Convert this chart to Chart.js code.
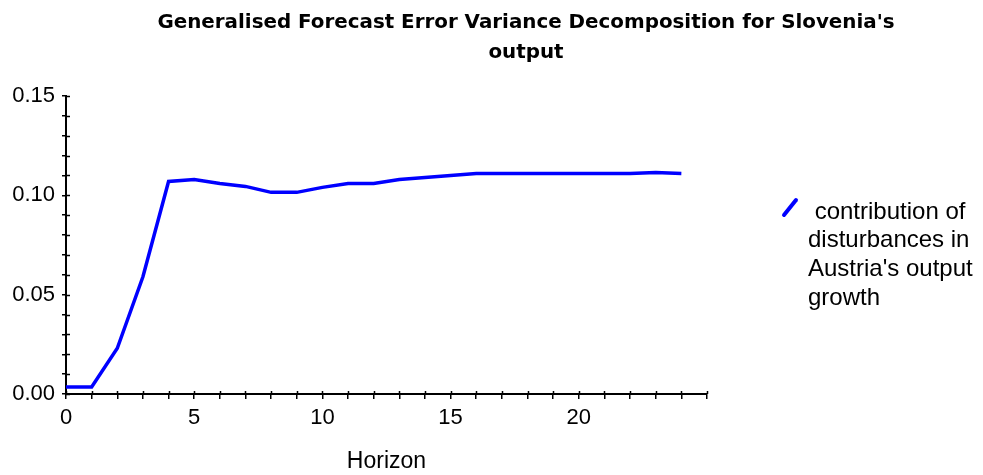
<!DOCTYPE html>
<html>
<head>
<meta charset="utf-8">
<script src="https://cdn.jsdelivr.net/npm/chart.js@4"></script>
<style>
  html, body { margin: 0; padding: 0; background: #fff; }
  #wrap { width: 983px; height: 475px; }
</style>
</head>
<body>
<div id="wrap"><canvas id="fevd" width="983" height="475"></canvas></div>
<script>
// Horizons and FEVD share
const horizons = [0, 1, 2, 3, 4, 5, 6, 7, 8, 9, 10, 11, 12, 13, 14, 15, 16, 17, 18, 19, 20, 21, 22, 23, 24];
const contribution = [0.0035, 0.0035, 0.023, 0.059, 0.107, 0.108, 0.106, 0.1045, 0.1015, 0.1015, 0.104, 0.106, 0.106,
  0.108, 0.109, 0.110, 0.111, 0.111, 0.111, 0.111, 0.111, 0.111, 0.111, 0.1115, 0.111];
const titleLines = ["Generalised Forecast Error Variance Decomposition for Slovenia's", 'output'];
const legendLines = [' contribution of', 'disturbances in', "Austria's output", 'growth'];
const xTitle = 'Horizon';

const FONT = "'Liberation Sans', Arial, sans-serif";
const TITLE_FONT = "'DejaVu Sans', sans-serif";

// Title is drawn by hand since it sits centred on the whole figure, not the plot
const titleBlock = {
  id: 'titleBlock',
  afterDraw(chart) {
    const ctx = chart.ctx;
    ctx.save();
    // fit the first line to the width it has in the original
    let size = 19;
    ctx.font = 'bold ' + size + 'px ' + TITLE_FONT;
    size = size * 737 / ctx.measureText(titleLines[0]).width;
    ctx.font = 'bold ' + size.toFixed(2) + 'px ' + TITLE_FONT;
    ctx.fillStyle = '#000';
    ctx.textAlign = 'center';
    ctx.textBaseline = 'middle';
    titleLines.forEach((t, i) => ctx.fillText(t, 526, 23 + i * 30));
    ctx.restore();
  }
};

// Small stubs so the tick marks cross the axis lines
const innerTicks = {
  id: 'innerTicks',
  afterDraw(chart) {
    const ctx = chart.ctx;
    const { x, y } = chart.scales;
    ctx.save();
    ctx.strokeStyle = '#000';
    ctx.lineWidth = 1.5;
    ctx.beginPath();
    x.ticks.forEach(t => {
      const px = Math.round(x.getPixelForValue(t.value)) + 0.5;
      ctx.moveTo(px, y.bottom);
      ctx.lineTo(px, y.bottom - 3);
    });
    y.ticks.forEach(t => {
      const py = Math.round(y.getPixelForValue(t.value)) + 0.5;
      ctx.moveTo(x.left, py);
      ctx.lineTo(x.left + 4, py);
    });
    ctx.stroke();
    ctx.restore();
  }
};

// Wrapped legend on the right
const sideLegend = {
  id: 'sideLegend',
  afterDraw(chart) {
    const ctx = chart.ctx;
    const ds = chart.data.datasets[0];
    ctx.save();
    ctx.strokeStyle = ds.borderColor;
    ctx.lineWidth = 4;
    ctx.lineCap = 'round';
    ctx.beginPath();
    ctx.moveTo(784, 215);
    ctx.lineTo(796, 200);
    ctx.stroke();
    ctx.fillStyle = '#000';
    ctx.font = '24px ' + FONT;
    ctx.textBaseline = 'middle';
    legendLines.forEach((t, i) => ctx.fillText(t, 808, 212 + i * 28.8));
    ctx.restore();
  }
};

new Chart(document.getElementById('fevd'), {
  type: 'line',
  data: {
    labels: horizons,
    datasets: [{
      label: legendLines.join(' ').trim(),
      data: horizons.map((h, i) => ({ x: h, y: contribution[i] })),
      borderColor: '#0000ff',
      borderWidth: 3.5,
      pointRadius: 0,
      tension: 0,
      fill: false
    }]
  },
  options: {
    responsive: false,
    animation: false,
    layout: { padding: { left: 0, right: 276, top: 96, bottom: 0 } },
    plugins: {
      legend: { display: false },
      tooltip: { enabled: false },
      title: { display: false }
    },
    scales: {
      x: {
        type: 'linear',
        min: 0,
        max: 25,
        border: { color: '#000', width: 2 },
        grid: { drawOnChartArea: false, color: '#000', tickLength: 5, lineWidth: 1.5 },
        ticks: {
          stepSize: 1,
          color: '#000',
          font: { family: FONT, size: 22 },
          padding: 6,
          autoSkip: false,
          maxRotation: 0,
          callback: v => (v % 5 === 0 && v < 25 ? String(v) : '')
        },
        title: {
          display: true,
          text: xTitle,
          color: '#000',
          font: { family: FONT, size: 23 },
          padding: { top: 14, bottom: 0 }
        },
        afterFit: s => { s.height = 81; }
      },
      y: {
        min: 0,
        max: 0.15,
        border: { color: '#000', width: 2 },
        grid: { drawOnChartArea: false, color: '#000', tickLength: 4, lineWidth: 1.5 },
        ticks: {
          stepSize: 0.01,
          color: '#000',
          font: { family: FONT, size: 22 },
          padding: 7,
          autoSkip: false,
          callback: v => (Math.round(v * 100) % 5 === 0 ? v.toFixed(2) : '')
        },
        afterFit: s => { s.width = 66; }
      }
    }
  },
  plugins: [titleBlock, innerTicks, sideLegend]
});
</script>
</body>
</html>
